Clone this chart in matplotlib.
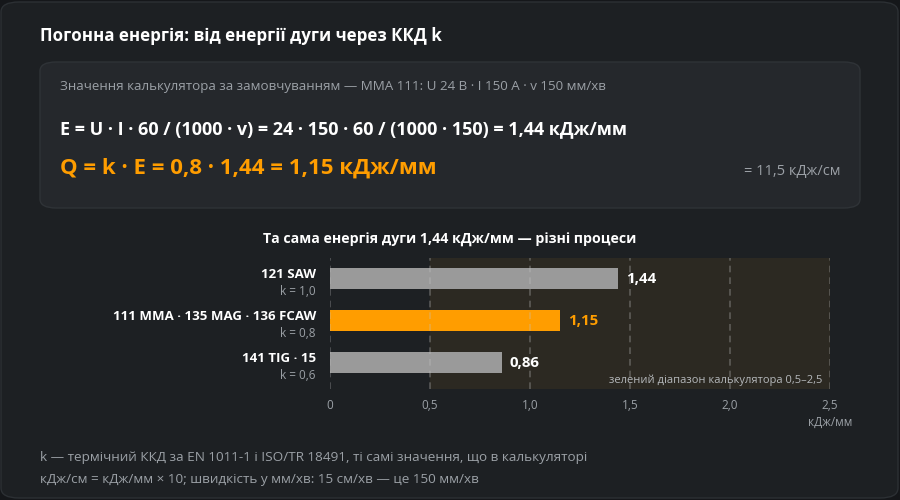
import matplotlib
matplotlib.use('Agg')
import matplotlib.pyplot as plt
from matplotlib.patches import FancyBboxPatch
from matplotlib.transforms import blended_transform_factory

plt.rcParams['font.family'] = ['Open Sans', 'DejaVu Sans']

# дані
processes = ['121 SAW', '111 MMA · 135 MAG · 136 FCAW', '141 TIG · 15']
k_labels = ['k = 1,0', 'k = 0,8', 'k = 0,6']
q_values = [1.44, 1.15, 0.86]
q_labels = ['1,44', '1,15', '0,86']
highlight = [False, True, False]
x_ticks = [0, 0.5, 1.0, 1.5, 2.0, 2.5]
x_ticklabels = ['0', '0,5', '1,0', '1,5', '2,0', '2,5']
range_lo, range_hi = 0.5, 2.5

BG = '#1d2023'
BOX = '#25282c'
ORANGE = '#ff9d00'
GREY_BAR = '#9a9a9a'
TXT_GREY = '#9ba0a6'
WHITE = '#ffffff'

fig = plt.figure(figsize=(9, 5), dpi=100)
fig.patch.set_facecolor('#15171a')

W, H = 900, 500
def fx(px):
    return px / W
def fy(py):
    return 1 - py / H

# карточка
card = FancyBboxPatch((fx(1), fy(498)), fx(897), 496 / H,
                      boxstyle='round,pad=0,rounding_size=0.02',
                      transform=fig.transFigure, facecolor=BG,
                      edgecolor='#2c3034', linewidth=1, zorder=-5)
fig.patches.append(card)

fig.text(fx(40), fy(36), 'Погонна енергія: від енергії дуги через ККД k',
         color=WHITE, fontsize=12.2, fontweight='bold', va='center', ha='left')

# блок з формулами
box = FancyBboxPatch((fx(40), fy(208)), fx(820), 146 / H,
                     boxstyle='round,pad=0,rounding_size=0.018',
                     transform=fig.transFigure, facecolor=BOX,
                     edgecolor='#2f3337', linewidth=1, zorder=-4)
fig.patches.append(box)

fig.text(fx(60), fy(87), 'Значення калькулятора за замовчуванням — MMA 111: U 24 В · I 150 А · v 150 мм/хв',
         color=TXT_GREY, fontsize=9.6, va='center')
fig.text(fx(60), fy(129), 'E = U · I · 60 / (1000 · v) = 24 · 150 · 60 / (1000 · 150) = 1,44 кДж/мм',
         color=WHITE, fontsize=13, fontweight='bold', va='center')
fig.text(fx(60), fy(168), 'Q = k · E = 0,8 · 1,44 = 1,15 кДж/мм',
         color=ORANGE, fontsize=16, fontweight='bold', va='center')
fig.text(fx(840), fy(171), '= 11,5 кДж/см', color=TXT_GREY, fontsize=10.5,
         va='center', ha='right')

fig.text(fx(450), fy(240), 'Та сама енергія дуги 1,44 кДж/мм — різні процеси',
         color=WHITE, fontsize=10.2, fontweight='bold', va='center', ha='center')

# графік
ax = fig.add_axes([fx(330), fy(389), fx(500), 131 / H])
ax.set_facecolor('none')
ypos = list(range(len(processes)))
ax.axvspan(range_lo, range_hi, color='#2c2922', zorder=0)
colors = [ORANGE if h else GREY_BAR for h in highlight]
ax.barh(ypos, q_values, height=0.5, color=colors, zorder=2)
for t in x_ticks:
    ax.axvline(t, color='#c4c4c4', alpha=0.33, linestyle=(0, (4, 3)),
               linewidth=1.2, zorder=3)
for y, v, lab, h in zip(ypos, q_values, q_labels, highlight):
    ax.text(v + 0.04, y, lab, color=ORANGE if h else WHITE, fontsize=10.8,
            fontweight='bold', va='center', ha='left', zorder=4)
ax.set_xlim(0, 2.5)
ax.set_ylim(2.62, -0.5)
for s in ax.spines.values():
    s.set_visible(False)
ax.set_yticks([])
ax.set_xticks(x_ticks)
ax.set_xticklabels(x_ticklabels, color=TXT_GREY, fontsize=8.5)
ax.tick_params(axis='x', length=0, pad=7)

trans = blended_transform_factory(fig.transFigure, ax.transData)
for y, name, kl in zip(ypos, processes, k_labels):
    ax.text(fx(316), y - 0.1, name, transform=trans, color=WHITE, fontsize=9.5,
            fontweight='bold', ha='right', va='center')
    ax.text(fx(316), y + 0.3, kl, transform=trans, color=TXT_GREY, fontsize=8.5,
            ha='right', va='center')

ax.text(2.46, 2.4, 'зелений діапазон калькулятора 0,5–2,5', color='#b5b8bb',
        fontsize=8, ha='right', va='center', zorder=4)
fig.text(fx(830), fy(422), 'кДж/мм', color=TXT_GREY, fontsize=8.5,
         ha='center', va='center')

fig.text(fx(40), fy(457), 'k — термічний ККД за EN 1011-1 і ISO/TR 18491, ті самі значення, що в калькуляторі',
         color=TXT_GREY, fontsize=9.7, va='center')
fig.text(fx(40), fy(479), 'кДж/см = кДж/мм × 10; швидкість у мм/хв: 15 см/хв — це 150 мм/хв',
         color=TXT_GREY, fontsize=9.7, va='center')

fig.savefig('out.png', dpi=100, facecolor=fig.get_facecolor())
